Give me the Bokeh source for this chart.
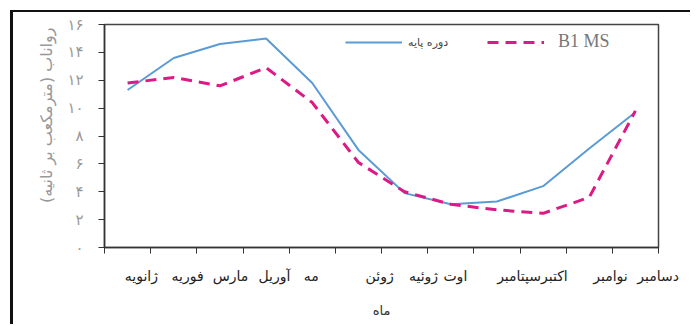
from bokeh.plotting import figure
from bokeh.models import FixedTicker, Legend, LegendItem, Range1d, Title
from bokeh.embed import file_html
from bokeh.resources import INLINE

# ---- data ----
month_num = [1, 2, 3, 4, 5, 6, 7, 8, 9, 10, 11, 12]
base_period = [11.3, 13.6, 14.6, 15.0, 11.8, 7.0, 3.9, 3.1, 3.3, 4.4, 7.1, 9.7]
b1_ms = [11.8, 12.2, 11.6, 12.9, 10.4, 6.1, 4.0, 3.1, 2.7, 2.45, 3.6, 9.8]
month_labels = ["ژانویه", "فوریه", "مارس", "آوریل", "مه", "ژوئن", "ژوئیه", "اوت",
                "اکتبرسپتامبر", "نوامبر", "دسامبر"]
y_ticks = [0, 2, 4, 6, 8, 10, 12, 14, 16]
y_tick_labels = ["۰", "۲", "۴", "۶", "۸", "۱۰", "۱۲", "۱۴", "۱۶"]
series_names = ["دوره پایه", "B1 MS"]
y_title = "رواناب (مترمکعب بر ثانیه)"
x_title = "ماه"

# ---- layout helpers (where the month captions sit along the axis) ----
label_pos = [1.30, 2.30, 3.23, 4.18, 4.98, 6.46, 7.41, 8.10, 9.77, 11.46, 12.49]
boundaries = [0.5 + i for i in range(13)]

BLUE = "#5b9bd5"
PINK = "#dc1a85"
AX = "#333333"

p = figure(width=680, height=314, x_range=Range1d(0.5, 12.5), y_range=Range1d(0, 16),
           output_backend="svg", toolbar_location=None,
           min_border_left=91, min_border_right=35, min_border_top=12, min_border_bottom=79)
p.margin = (10, 0, 0, 10)
p.styles = {"border-top": "2px solid #111", "border-left": "3px solid #111"}
p.background_fill_color = "white"
p.border_fill_color = "white"
p.outline_line_color = "#444444"
p.outline_line_width = 1.5
p.xgrid.visible = False
p.ygrid.visible = False

# x axis: month captions as major labels, category boundaries as (minor) tick marks
xa = p.xaxis[0]
xa.ticker = FixedTicker(ticks=label_pos, minor_ticks=boundaries)
xa.major_label_overrides = dict(zip(label_pos, month_labels))
xa.major_tick_line_color = None
xa.major_tick_out = 6
xa.major_tick_in = 0
xa.minor_tick_line_color = AX
xa.minor_tick_out = 6
xa.minor_tick_in = 0
xa.axis_line_color = AX
xa.axis_line_width = 1.5
xa.major_label_standoff = 14
xa.major_label_text_font = "DejaVu Sans"
xa.major_label_text_font_size = "14px"
xa.major_label_text_color = "#222222"
xa.axis_label = x_title
xa.axis_label_standoff = 16
xa.axis_label_text_font = "DejaVu Sans"
xa.axis_label_text_font_size = "13px"
xa.axis_label_text_font_style = "normal"
xa.axis_label_text_color = "#333333"

ya = p.yaxis[0]
ya.ticker = FixedTicker(ticks=y_ticks)
ya.major_label_overrides = dict(zip(y_ticks, y_tick_labels))
ya.major_label_text_font = "DejaVu Sans"
ya.major_label_text_font_size = "15px"
ya.major_label_text_color = "#999999"
ya.major_label_standoff = 15
ya.major_tick_out = 6
ya.major_tick_in = 0
ya.minor_tick_line_color = None
ya.axis_line_color = AX
ya.major_tick_line_color = AX
ya.axis_line_width = 1.5

p.add_layout(Title(text=y_title, align="right", offset=3, standoff=18,
                   text_font="DejaVu Sans", text_font_size="16px",
                   text_font_style="normal", text_color="#999999"), "left")

r1 = p.line(month_num, base_period, line_color=BLUE, line_width=2)
r2 = p.line(month_num, b1_ms, line_color=PINK, line_width=3, line_dash="11 7")

leg1 = Legend(items=[LegendItem(label=series_names[0], renderers=[r1])], location=(241, 195),
              glyph_width=57, glyph_height=20, label_standoff=6, padding=0, margin=0,
              border_line_color=None, background_fill_alpha=0,
              label_text_font="DejaVu Sans", label_text_font_size="11px", label_text_color="#444444")
leg2 = Legend(items=[LegendItem(label=series_names[1], renderers=[r2])], location=(383, 195),
              glyph_width=57, glyph_height=20, label_standoff=14, padding=0, margin=0,
              border_line_color=None, background_fill_alpha=0,
              label_text_font="Liberation Serif", label_text_font_size="18px", label_text_color="#777777")
p.add_layout(leg1)
p.add_layout(leg2)

open("out.html", "w").write(file_html(p, INLINE))
